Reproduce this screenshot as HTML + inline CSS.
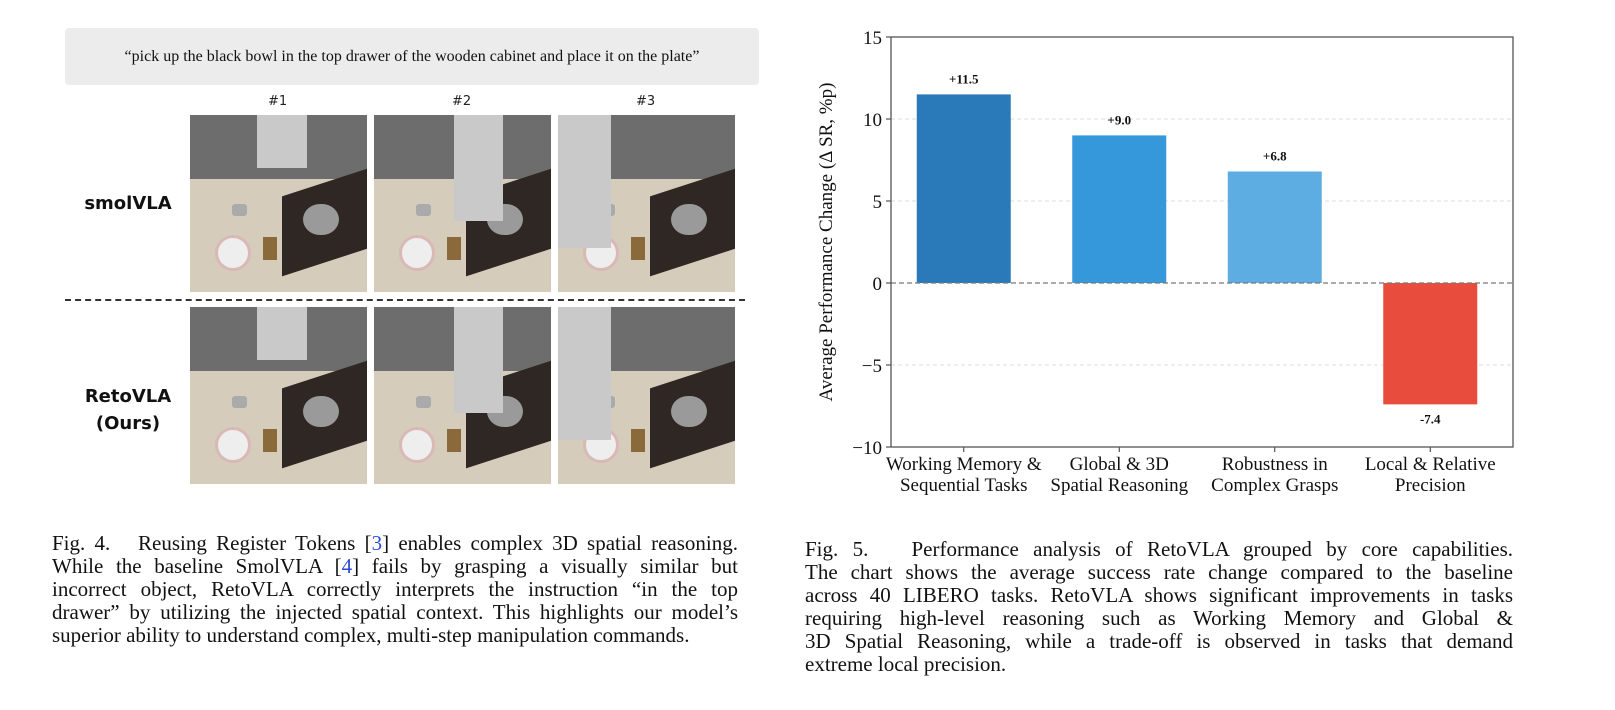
<!DOCTYPE html>
<html><head><meta charset="utf-8"><style>
body{margin:0;width:1615px;height:710px;background:#fff;position:relative;overflow:hidden;font-family:"Liberation Serif",serif;}
.abs{position:absolute}
.cap{position:absolute;font-size:21px;line-height:23px;color:#111}
.cap div{text-align:justify;text-align-last:justify;white-space:nowrap}
.cap div.last{text-align-last:left}
.ph{position:absolute;width:177px;height:177px;overflow:hidden;background:#d6ccbc}
.ph .wall{position:absolute;left:0;top:0;width:100%;height:36%;background:#6d6d6d}
.ph .cab{position:absolute;left:52%;top:38%;width:50%;height:45%;background:#2e2723;transform:skewY(-18deg)}
.ph .bowl{position:absolute;left:64%;top:50%;width:20%;height:18%;border-radius:50%;background:#9a9a9a}
.ph .arm{position:absolute;background:#c9c9c9}
.ph .plate{position:absolute;left:14%;top:68%;width:17%;height:17%;border-radius:50%;background:#eee;border:3px solid #d9b9b5}
.ph .box{position:absolute;left:41%;top:69%;width:8%;height:13%;background:#8a6a3a}
.ph .cup{position:absolute;left:24%;top:50%;width:8%;height:7%;background:#aaa;border-radius:3px}
.lbl{position:absolute;font-family:"DejaVu Sans",sans-serif;font-weight:bold;font-size:18px;text-align:center;color:#111}
.hdr{position:absolute;font-family:"DejaVu Sans",sans-serif;font-size:13px;color:#222}
</style></head><body>
<div class="abs" style="left:65px;top:28px;width:694px;height:57px;background:#ececec;border-radius:4px;font-size:16px;text-align:center;line-height:57px;color:#111">“pick up the black bowl in the top drawer of the wooden cabinet and place it on the plate”</div>
<div class="hdr" style="left:268px;top:94px">#1</div>
<div class="hdr" style="left:452px;top:94px">#2</div>
<div class="hdr" style="left:636px;top:94px">#3</div>
<div class="lbl" style="left:70px;top:193px;width:116px">smolVLA</div>
<div class="lbl" style="left:70px;top:383px;width:116px;line-height:27px">RetoVLA<br>(Ours)</div>
<div class="abs" style="left:65px;top:299px;width:680px;border-top:2px dashed #333"></div>
<div id="photos"></div>
<svg class="abs" style="left:0;top:0" width="1615" height="530" id="chart"></svg>
<div class="cap" style="left:52px;top:532px;width:686px">
<div>Fig. 4.&nbsp;&nbsp;&nbsp;Reusing Register Tokens [<span style="color:#2a4bd7">3</span>] enables complex 3D spatial reasoning.</div>
<div>While the baseline SmolVLA [<span style="color:#2a4bd7">4</span>] fails by grasping a visually similar but</div>
<div>incorrect object, RetoVLA correctly interprets the instruction “in the top</div>
<div>drawer” by utilizing the injected spatial context. This highlights our model’s</div>
<div class="last">superior ability to understand complex, multi-step manipulation commands.</div>
</div>
<div class="cap" style="left:805px;top:538px;width:708px">
<div>Fig. 5.&nbsp;&nbsp;&nbsp;Performance analysis of RetoVLA grouped by core capabilities.</div>
<div>The chart shows the average success rate change compared to the baseline</div>
<div>across 40 LIBERO tasks. RetoVLA shows significant improvements in tasks</div>
<div>requiring high-level reasoning such as Working Memory and Global &amp;</div>
<div>3D Spatial Reasoning, while a trade-off is observed in tasks that demand</div>
<div class="last">extreme local precision.</div>
</div>
<script>
const categories=[["Working Memory &","Sequential Tasks"],["Global & 3D","Spatial Reasoning"],["Robustness in","Complex Grasps"],["Local & Relative","Precision"]];
const values=[11.5,9.0,6.8,-7.4];
const valueLabels=["+11.5","+9.0","+6.8","-7.4"];
const colors=["#2a7ab9","#3498db","#5dade2","#e74c3c"];
const yTicks=[15,10,5,0,-5,-10];
const yTickLabels=["15","10","5","0","\u22125","\u221210"];

const photos=document.getElementById('photos');
const xs=[190,374,558], ys=[115,307];
ys.forEach((y,r)=>xs.forEach((x,c)=>{
  const d=document.createElement('div');
  d.className='ph';d.style.left=x+'px';d.style.top=y+'px';
  
  
  d.innerHTML='<div class="wall"></div><div class="cab"></div><div class="bowl"></div><div class="plate"></div><div class="box"></div><div class="cup"></div><div class="arm" style="left:'+(c==0?38:c==1?45:0)+'%;top:0;width:'+(c==2?30:28)+'%;height:'+(c==0?30:c==1?60:75)+'%"></div>';
  photos.appendChild(d);
}));

const svg=document.getElementById('chart'),NS='http://www.w3.org/2000/svg';
const L=891,R=1513,T=37,B=447,yMin=-10,yMax=15;
const y=v=>T+(yMax-v)/(yMax-yMin)*(B-T);
const step=(R-L)/4, bw=94;
const x=i=>L+step*(i+0.5)-5;
function el(t,a,txt){const e=document.createElementNS(NS,t);for(const k in a)e.setAttribute(k,a[k]);if(txt!=null)e.textContent=txt;svg.appendChild(e);return e;}
yTicks.forEach((t,i)=>{
  if(t!==0&&t!==15&&t!==-10){const g=el('line',{x1:L,x2:R,y1:y(t),y2:y(t),stroke:'#ddd','stroke-dasharray':'4,3','stroke-width':1});}
  const tk=el('line',{x1:L-5,x2:L,y1:y(t),y2:y(t),stroke:'#333'});
  const lb=el('text',{x:L-9,y:y(t)+7,'text-anchor':'end','font-size':19,fill:'#111','font-family':'Liberation Serif'},yTickLabels[i]);
  
});
values.forEach((v,i)=>{
  const r=el('rect',{x:x(i)-bw/2,y:Math.min(y(v),y(0)),width:bw,height:Math.abs(y(v)-y(0)),fill:colors[i]});
  
  const ly=v>=0?y(v)-11:y(v)+19;
  const t=el('text',{x:x(i),y:ly,'text-anchor':'middle','font-size':13,'font-weight':'bold',fill:'#111','font-family':'Liberation Serif'},valueLabels[i]);
  
  const tk=el('line',{x1:x(i),x2:x(i),y1:B,y2:B+5,stroke:'#333'});
  categories[i].forEach((s,j)=>{const c=el('text',{x:x(i),y:B+23+j*21,'text-anchor':'middle','font-size':19,fill:'#111','font-family':'Liberation Serif'},s);});
});
const z=el('line',{x1:L,x2:R,y1:y(0),y2:y(0),stroke:'#777','stroke-dasharray':'5,3','stroke-width':1.2});
const f=el('rect',{x:L,y:T,width:R-L,height:B-T,fill:'none',stroke:'#555','stroke-width':1.3});
const yt=el('text',{x:0,y:0,transform:'translate(832,'+((T+B)/2)+') rotate(-90)','text-anchor':'middle','font-size':19,fill:'#111','font-family':'Liberation Serif'},'Average Performance Change (Δ SR, %p)');

</script>
</body></html>
